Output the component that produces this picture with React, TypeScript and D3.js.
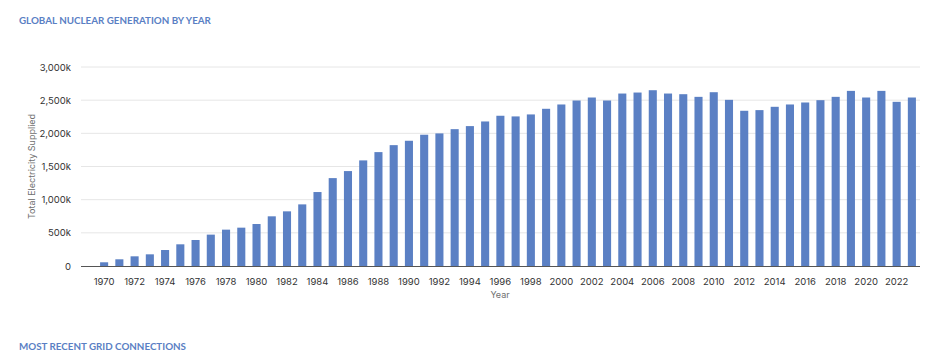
import React, { useEffect, useRef } from 'react';
import * as d3 from 'd3';

// annual nuclear generation, in thousands
const years = d3.range(1970, 2024);
const generation = [
  56, 101, 146, 176, 241, 327, 392, 473, 548, 578,
  633, 749, 824, 929, 1115, 1325, 1431, 1592, 1717, 1822,
  1888, 1979, 1999, 2063, 2109, 2179, 2265, 2255, 2285, 2370,
  2435, 2495, 2540, 2495, 2600, 2615, 2650, 2600, 2590, 2550,
  2620, 2505, 2340, 2350, 2400, 2435, 2465, 2500, 2550, 2640,
  2540, 2640, 2475, 2540,
];
const yTicks = [0, 500, 1000, 1500, 2000, 2500, 3000];
const xTickYears = d3.range(1970, 2024, 2);

const title = 'GLOBAL NUCLEAR GENERATION BY YEAR';
const nextTitle = 'MOST RECENT GRID CONNECTIONS';
const yLabel = 'Total Electricity Supplied';
const xLabel = 'Year';

const W = 930;
const H = 362;

export default function App() {
  const ref = useRef<SVGSVGElement>(null);

  useEffect(() => {
    const svg = d3.select(ref.current);
    svg.selectAll('*').remove();

    const left = 81, right = 920, top = 67, bottom = 266;

    const x = d3.scaleBand<number>()
      .domain(years)
      .range([96.5, 919.5])
      .paddingInner(0.47)
      .paddingOuter(0.235);

    const y = d3.scaleLinear()
      .domain([0, 3000])
      .range([bottom, top]);

    const font = 'Inter, "Liberation Sans", sans-serif';

    // section titles
    [[title, 24], [nextTitle, 350]].forEach(([t, ty]) => {
      svg.append('text')
        .attr('x', 19).attr('y', ty as number)
        .attr('fill', '#5a7fc4')
        .attr('font-family', 'Lato, sans-serif')
        .attr('font-weight', 700)
        .attr('font-size', 9.8)
        .text(t as string);
    });

    // gridlines
    svg.append('g')
      .selectAll('line')
      .data(yTicks.filter(d => d > 0))
      .join('line')
      .attr('x1', left).attr('x2', right)
      .attr('y1', d => y(d)).attr('y2', d => y(d))
      .attr('stroke', '#e6e6e6')
      .attr('stroke-width', 1);

    // y axis labels
    svg.append('g')
      .selectAll('text')
      .data(yTicks)
      .join('text')
      .attr('x', 71)
      .attr('y', d => y(d) + 3.5)
      .attr('text-anchor', 'end')
      .attr('fill', '#333')
      .attr('font-family', font)
      .attr('font-size', 9.5)
      .text(d => d === 0 ? '0' : d3.format(',')(d) + 'k');

    svg.append('text')
      .attr('transform', `translate(34.5,${(top + bottom) / 2}) rotate(-90)`)
      .attr('text-anchor', 'middle')
      .attr('fill', '#707070')
      .attr('font-family', font)
      .attr('font-size', 9)
      .text(yLabel);

    // bars
    svg.append('g')
      .selectAll('rect')
      .data(years)
      .join('rect')
      .attr('x', d => x(d)!)
      .attr('width', x.bandwidth())
      .attr('y', (d, i) => y(generation[i]))
      .attr('height', (d, i) => bottom - y(generation[i]))
      .attr('fill', '#5b80c4');

    // baseline
    svg.append('line')
      .attr('x1', left).attr('x2', right)
      .attr('y1', bottom + 0.5).attr('y2', bottom + 0.5)
      .attr('stroke', '#555')
      .attr('stroke-width', 1);

    // x tick labels
    svg.append('g')
      .selectAll('text')
      .data(xTickYears)
      .join('text')
      .attr('x', d => x(d)! + x.bandwidth() / 2)
      .attr('y', 285)
      .attr('text-anchor', 'middle')
      .attr('fill', '#333')
      .attr('font-family', font)
      .attr('font-size', 9.5)
      .text(d => String(d));

    svg.append('text')
      .attr('x', 500).attr('y', 298)
      .attr('text-anchor', 'middle')
      .attr('fill', '#707070')
      .attr('font-family', font)
      .attr('font-size', 9)
      .text(xLabel);
  }, []);

  return (
    <svg
      ref={ref}
      width={W}
      height={H}
      style={{ position: 'absolute', left: 0, top: 0, background: '#fff' }}
    />
  );
}
